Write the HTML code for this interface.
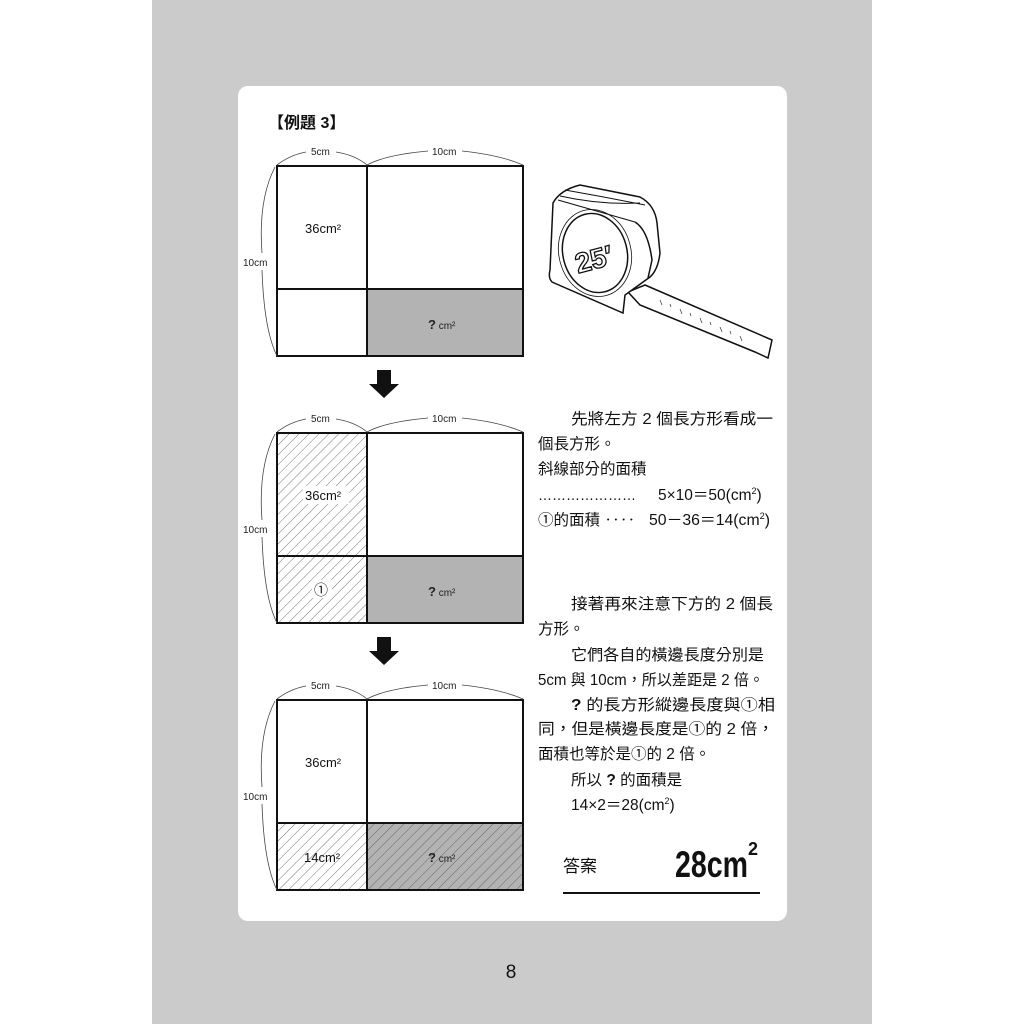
<!DOCTYPE html>
<html><head><meta charset="utf-8"><style>
html,body{margin:0;padding:0;width:1024px;height:1024px;overflow:hidden;background:#fff}
svg{display:block}
.t{font-family:"Liberation Sans","Noto Sans CJK TC",sans-serif;font-size:15.5px;fill:#111}
.s{font-family:"Liberation Sans","Noto Sans CJK TC",sans-serif;font-size:10px;fill:#222}
</style></head><body>
<svg width="1024" height="1024" viewBox="0 0 1024 1024" xmlns="http://www.w3.org/2000/svg">
<defs>
<pattern id="h" width="7" height="7" patternUnits="userSpaceOnUse" patternTransform="rotate(45)">
<line x1="0" y1="0" x2="0" y2="7" stroke="#555" stroke-width="0.8"/></pattern>
</defs>
<rect x="152" y="0" width="720" height="1024" fill="#cbcbcb"/>
<rect x="238" y="86" width="549" height="835" rx="10" fill="#fff"/>
<text x="268" y="128" class="t" style="font-weight:bold;font-size:16px">【例題 3】</text>

<!-- Diagram 1 -->
<g>
<rect x="367" y="289" width="156" height="67" fill="#b3b3b3"/>
<rect x="277" y="166" width="246" height="190" fill="none" stroke="#111" stroke-width="2"/>
<line x1="367" y1="166" x2="367" y2="356" stroke="#111" stroke-width="2"/>
<line x1="277" y1="289" x2="523" y2="289" stroke="#111" stroke-width="2"/>
<path d="M277,165 Q290,155 306,152 M336,152 Q355,155 367,165 Q385,155 428,151 M462,151 Q500,155 523,165" fill="none" stroke="#444" stroke-width="0.8"/>
<path d="M275,167 Q258,200 262,253 M262,270 Q264,330 277,356" fill="none" stroke="#444" stroke-width="0.8"/>
<text x="311" y="155" class="s">5cm</text><text x="432" y="155" class="s">10cm</text>
<text x="243" y="266" class="s">10cm</text>
<text x="305" y="233" class="t" style="font-size:13px">36cm²</text>
<text x="428" y="329" class="s"><tspan style="font-weight:bold;font-size:13px">?</tspan> cm²</text>
</g>
<path d="M377,370 h14 v14 h8 l-15,14 l-15,-14 h8z" fill="#111"/>

<!-- Diagram 2 -->
<g>
<rect x="277" y="433" width="90" height="190" fill="url(#h)"/>
<rect x="367" y="556" width="156" height="67" fill="#b3b3b3"/>
<rect x="277" y="433" width="246" height="190" fill="none" stroke="#111" stroke-width="2"/>
<line x1="367" y1="433" x2="367" y2="623" stroke="#111" stroke-width="2"/>
<line x1="277" y1="556" x2="523" y2="556" stroke="#111" stroke-width="2"/>
<path d="M277,432 Q290,422 306,419 M336,419 Q355,422 367,432 Q385,422 428,418 M462,418 Q500,422 523,432" fill="none" stroke="#444" stroke-width="0.8"/>
<path d="M275,434 Q258,467 262,520 M262,537 Q264,597 277,623" fill="none" stroke="#444" stroke-width="0.8"/>
<text x="311" y="422" class="s">5cm</text><text x="432" y="422" class="s">10cm</text>
<text x="243" y="533" class="s">10cm</text>
<rect x="303" y="486" width="46" height="18" fill="#fff"/>
<text x="305" y="500" class="t" style="font-size:13px">36cm²</text>
<rect x="312" y="580" width="20" height="18" fill="#fff"/>
<text x="314" y="595" class="t" style="font-size:14px">①</text>
<text x="428" y="596" class="s"><tspan style="font-weight:bold;font-size:13px">?</tspan> cm²</text>
</g>
<path d="M377,637 h14 v14 h8 l-15,14 l-15,-14 h8z" fill="#111"/>

<!-- Diagram 3 -->
<g>
<rect x="277" y="823" width="90" height="67" fill="url(#h)"/>
<rect x="367" y="823" width="156" height="67" fill="#b3b3b3"/>
<rect x="367" y="823" width="156" height="67" fill="url(#h)"/>
<rect x="277" y="700" width="246" height="190" fill="none" stroke="#111" stroke-width="2"/>
<line x1="367" y1="700" x2="367" y2="890" stroke="#111" stroke-width="2"/>
<line x1="277" y1="823" x2="523" y2="823" stroke="#111" stroke-width="2"/>
<path d="M277,699 Q290,689 306,686 M336,686 Q355,689 367,699 Q385,689 428,685 M462,685 Q500,689 523,699" fill="none" stroke="#444" stroke-width="0.8"/>
<path d="M275,701 Q258,734 262,787 M262,804 Q264,864 277,890" fill="none" stroke="#444" stroke-width="0.8"/>
<text x="311" y="689" class="s">5cm</text><text x="432" y="689" class="s">10cm</text>
<text x="243" y="800" class="s">10cm</text>
<text x="305" y="767" class="t" style="font-size:13px">36cm²</text>
<text x="304" y="862" class="t" style="font-size:13px">14cm²</text>
<text x="428" y="862" class="s"><tspan style="font-weight:bold;font-size:13px">?</tspan> cm²</text>
</g>

<!-- Tape measure -->
<g fill="#fff" stroke="#111" stroke-width="1.5">
<path d="M628,292 L645,285 L772,340 L768,358 L755,352 L640,305z"/>
<path d="M553,203 Q560,190 580,185 L640,197 Q655,205 657,223 L660,253 Q658,270 650,277 L625,295 L623,313 L552,282 Q548,278 550,270z"/>
<path d="M558,200 L635,222 M560,196 Q600,205 640,203 M565,190 Q605,197 645,205" fill="none" stroke-width="1"/>
<ellipse cx="595" cy="253" rx="32" ry="40" transform="rotate(-15 595 253)"/>
<ellipse cx="595" cy="253" rx="36" ry="44" transform="rotate(-15 595 253)" fill="none" stroke-width="0.8"/>
<path d="M635,222 Q648,230 652,260 L648,278" fill="none"/>
</g>
<text x="575" y="270" style="font-family:'Liberation Sans',sans-serif;font-size:28px;font-weight:bold;fill:#fff;stroke:#111;stroke-width:1.3" transform="rotate(-15 590 260)">25′</text>
<g stroke="#333" stroke-width="0.7">
<line x1="660" y1="300" x2="662" y2="305"/><line x1="680" y1="309" x2="682" y2="314"/><line x1="700" y1="318" x2="702" y2="323"/><line x1="720" y1="327" x2="722" y2="332"/><line x1="740" y1="336" x2="742" y2="341"/>
<line x1="670" y1="304" x2="671" y2="307"/><line x1="690" y1="313" x2="691" y2="316"/><line x1="710" y1="322" x2="711" y2="325"/><line x1="730" y1="331" x2="731" y2="334"/>
</g>

<!-- Right text -->
<g class="t">
<text x="571" y="424" textLength="202" lengthAdjust="spacingAndGlyphs">先將左方 2 個長方形看成一</text>
<text x="538" y="449">個長方形。</text>
<text x="538" y="474">斜線部分的面積</text>
<text x="538" y="500" textLength="98" lengthAdjust="spacingAndGlyphs">…………………</text>
<text x="658" y="500">5×10＝50(cm<tspan dy="-6" font-size="9">2</tspan><tspan dy="6">)</tspan></text>
<text x="538" y="525">①的面積 ‥‥</text>
<text x="649" y="525" textLength="121" lengthAdjust="spacingAndGlyphs">50－36＝14(cm<tspan dy="-6" font-size="9">2</tspan><tspan dy="6">)</tspan></text>
<text x="571" y="609" textLength="202" lengthAdjust="spacingAndGlyphs">接著再來注意下方的 2 個長</text>
<text x="538" y="634">方形。</text>
<text x="571" y="660" textLength="193" lengthAdjust="spacingAndGlyphs">它們各自的橫邊長度分別是</text>
<text x="538" y="685" textLength="226" lengthAdjust="spacingAndGlyphs">5cm 與 10cm，所以差距是 2 倍。</text>
<text x="571" y="710" textLength="204" lengthAdjust="spacingAndGlyphs"><tspan font-weight="bold">?</tspan> 的長方形縱邊長度與①相</text>
<text x="538" y="734" textLength="236" lengthAdjust="spacingAndGlyphs">同，但是橫邊長度是①的 2 倍，</text>
<text x="538" y="759">面積也等於是①的 2 倍。</text>
<text x="571" y="785">所以 <tspan font-weight="bold">?</tspan> 的面積是</text>
<text x="571" y="810">14×2＝28(cm<tspan dy="-6" font-size="9">2</tspan><tspan dy="6">)</tspan></text>
<text x="563" y="872" style="font-size:17px">答案</text>
</g>
<text x="675" y="877" textLength="73" lengthAdjust="spacingAndGlyphs" style="font-family:'Liberation Sans',sans-serif;font-weight:bold;font-size:37px;fill:#111">28cm</text>
<text x="748" y="855" style="font-family:'Liberation Sans',sans-serif;font-weight:bold;font-size:18px;fill:#111">2</text>
<line x1="563" y1="893" x2="760" y2="893" stroke="#111" stroke-width="2"/>
<text x="511" y="978" text-anchor="middle" style="font-family:'Liberation Sans',sans-serif;font-size:19px;fill:#111">8</text>
</svg>
</body></html>
